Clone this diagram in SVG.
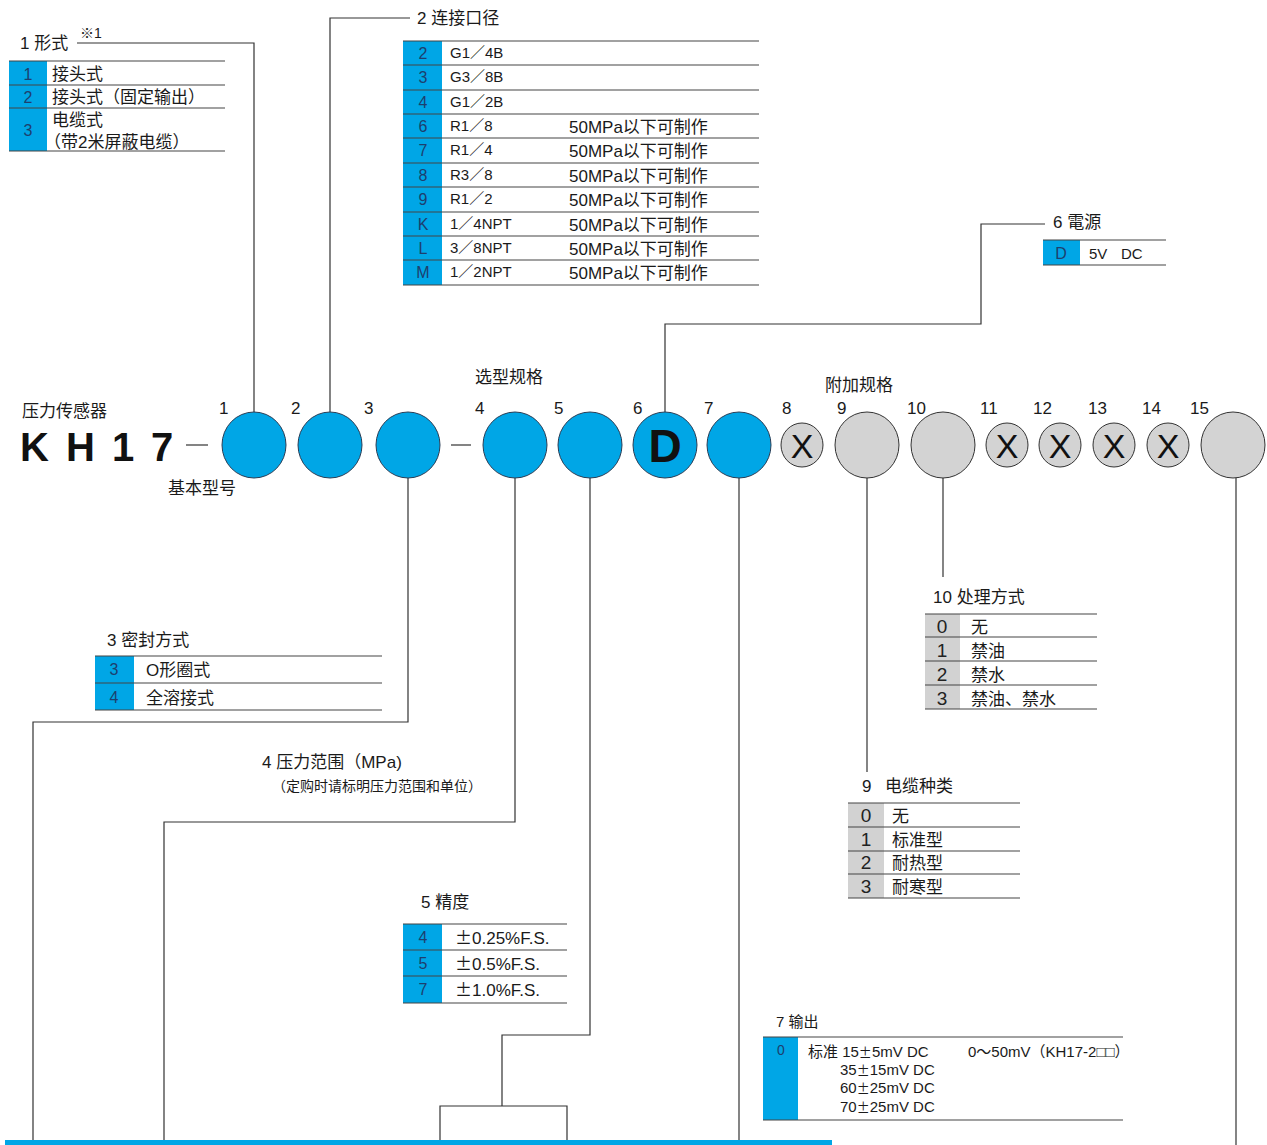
<svg xmlns="http://www.w3.org/2000/svg" width="1267" height="1145" viewBox="0 0 1267 1145">
<style>
text{font-family:"Liberation Sans","Noto Sans CJK SC",sans-serif;fill:#1a1a1a}
.t{font-size:17px}
.s{font-size:15px}
.xs{font-size:14px}
.pm{font-family:"Noto Sans CJK SC",sans-serif}
.pms{font-family:"Noto Sans CJK SC",sans-serif;font-size:13px}
.code{font-size:16px;fill:#1d3f6e;text-anchor:middle}
.gcode{font-size:19px;fill:#222;text-anchor:middle}
.num{font-size:17px}
.blue{fill:#00a6e6}
.gray{fill:#d2d2d2}
.ln{stroke:#333;stroke-width:1.2;fill:none}
.rl{stroke:#444;stroke-width:1.2}
.cb{fill:#00a6e6;stroke:#2a3d55;stroke-width:1}
.cg{fill:#d3d3d3;stroke:#333;stroke-width:1}
.x{font-size:34px;text-anchor:middle;fill:#111}
</style>
<rect width="1267" height="1145" fill="#fff"/>

<g id="connectors">
<polyline class="ln" points="254,412 254,43 228,43 77,43"/>
<polyline class="ln" points="330,412 330,18 410,18"/>
<polyline class="ln" points="665,412 665,324 981,324 981,224 1045,224"/>
<polyline class="ln" points="408,478 408,722 33,722 33,1145"/>
<polyline class="ln" points="515,478 515,822 164,822 164,1145"/>
<polyline class="ln" points="590,478 590,1035 502,1035 502,1106"/>
<polyline class="ln" points="440,1145 440,1106 567,1106 567,1145"/>
<line class="ln" x1="739" y1="478" x2="739" y2="1145"/>
<line class="ln" x1="867" y1="478" x2="867" y2="772"/>
<line class="ln" x1="943" y1="478" x2="943" y2="577"/>
<line class="ln" x1="1236" y1="478" x2="1236" y2="1145"/>
<line class="ln" x1="186" y1="445" x2="208" y2="445"/>
<line class="ln" x1="451" y1="445" x2="471" y2="445"/>
</g>

<rect x="5" y="1140" width="827" height="5" class="blue"/>

<g id="header">
<text x="22" y="417" class="t">压力传感器</text>
<text y="461" style="font-size:40px;font-weight:bold;fill:#111"><tspan x="20">K</tspan><tspan x="66">H</tspan><tspan x="112">1</tspan><tspan x="151">7</tspan></text>
<text x="168" y="494" class="t">基本型号</text>
<text x="475" y="383" class="t">选型规格</text>
<text x="825" y="391" class="t">附加规格</text>
</g>

<g id="positions">
<text x="219" y="414" class="num">1</text>
<text x="291" y="414" class="num">2</text>
<text x="364" y="414" class="num">3</text>
<text x="475" y="414" class="num">4</text>
<text x="554" y="414" class="num">5</text>
<text x="633" y="414" class="num">6</text>
<text x="704" y="414" class="num">7</text>
<text x="782" y="414" class="num">8</text>
<text x="837" y="414" class="num">9</text>
<text x="907" y="414" class="num">10</text>
<text x="980" y="414" class="num">11</text>
<text x="1033" y="414" class="num">12</text>
<text x="1088" y="414" class="num">13</text>
<text x="1142" y="414" class="num">14</text>
<text x="1190" y="414" class="num">15</text>
</g>

<g id="c1"><ellipse class="cb" cx="254" cy="445" rx="32" ry="33"/></g>
<g id="c2"><ellipse class="cb" cx="330" cy="445" rx="32" ry="33"/></g>
<g id="c3"><ellipse class="cb" cx="408" cy="445" rx="32" ry="33"/></g>
<g id="c4"><ellipse class="cb" cx="515" cy="445" rx="32" ry="33"/></g>
<g id="c5"><ellipse class="cb" cx="590" cy="445" rx="32" ry="33"/></g>
<g id="c6"><ellipse class="cb" cx="665" cy="445" rx="32" ry="33"/><text x="665" y="462" style="font-size:46px;font-weight:bold;text-anchor:middle;fill:#111">D</text></g>
<g id="c7"><ellipse class="cb" cx="739" cy="445" rx="32" ry="33"/></g>
<g id="c8"><ellipse class="cg" cx="802" cy="445" rx="21" ry="22"/><text x="802" y="458" class="x">X</text></g>
<g id="c9"><ellipse class="cg" cx="867" cy="445" rx="32" ry="33"/></g>
<g id="c10"><ellipse class="cg" cx="943" cy="445" rx="32" ry="33"/></g>
<g id="c11"><ellipse class="cg" cx="1007" cy="445" rx="21" ry="22"/><text x="1007" y="458" class="x">X</text></g>
<g id="c12"><ellipse class="cg" cx="1060" cy="445" rx="21" ry="22"/><text x="1060" y="458" class="x">X</text></g>
<g id="c13"><ellipse class="cg" cx="1114" cy="445" rx="21" ry="22"/><text x="1114" y="458" class="x">X</text></g>
<g id="c14"><ellipse class="cg" cx="1168" cy="445" rx="21" ry="22"/><text x="1168" y="458" class="x">X</text></g>
<g id="c15"><ellipse class="cg" cx="1233" cy="445" rx="32" ry="33"/></g>

<g id="t1">
<text x="20" y="49" class="t">1 形式</text>
<text x="80" y="38" class="xs">※1</text>
<rect x="9" y="61" width="38" height="90" class="blue"/>
<line class="rl" x1="9" y1="61" x2="225" y2="61"/>
<line class="rl" x1="9" y1="85" x2="225" y2="85"/>
<line class="rl" x1="9" y1="108" x2="225" y2="108"/>
<line class="rl" x1="9" y1="151" x2="225" y2="151"/>
<text x="28" y="80" class="code">1</text>
<text x="28" y="103" class="code">2</text>
<text x="28" y="136" class="code">3</text>
<text x="52" y="80" class="t">接头式</text>
<text x="52" y="103" class="t">接头式（固定输出）</text>
<text x="52" y="126" class="t">电缆式</text>
<text x="44" y="148" class="t">（带2米屏蔽电缆）</text>
</g>

<g id="t2">
<text x="417" y="24" class="t">2 连接口径</text>
<rect x="403" y="41" width="39" height="244" class="blue"/>
<line class="rl" x1="403" y1="41" x2="759" y2="41"/>
<line class="rl" x1="403" y1="65" x2="759" y2="65"/>
<line class="rl" x1="403" y1="90" x2="759" y2="90"/>
<line class="rl" x1="403" y1="114" x2="759" y2="114"/>
<line class="rl" x1="403" y1="138" x2="759" y2="138"/>
<line class="rl" x1="403" y1="163" x2="759" y2="163"/>
<line class="rl" x1="403" y1="187" x2="759" y2="187"/>
<line class="rl" x1="403" y1="212" x2="759" y2="212"/>
<line class="rl" x1="403" y1="236" x2="759" y2="236"/>
<line class="rl" x1="403" y1="260" x2="759" y2="260"/>
<line class="rl" x1="403" y1="285" x2="759" y2="285"/>
<text x="423" y="59" class="code">2</text>
<text x="423" y="83" class="code">3</text>
<text x="423" y="108" class="code">4</text>
<text x="423" y="132" class="code">6</text>
<text x="423" y="156" class="code">7</text>
<text x="423" y="181" class="code">8</text>
<text x="423" y="205" class="code">9</text>
<text x="423" y="230" class="code">K</text>
<text x="423" y="254" class="code">L</text>
<text x="423" y="278" class="code">M</text>
<text x="450" y="58" class="s">G1／4B</text>
<text x="450" y="82" class="s">G3／8B</text>
<text x="450" y="107" class="s">G1／2B</text>
<text x="450" y="131" class="s">R1／8</text>
<text x="450" y="155" class="s">R1／4</text>
<text x="450" y="180" class="s">R3／8</text>
<text x="450" y="204" class="s">R1／2</text>
<text x="450" y="229" class="s">1／4NPT</text>
<text x="450" y="253" class="s">3／8NPT</text>
<text x="450" y="277" class="s">1／2NPT</text>
<text x="569" y="133" class="t">50MPa以下可制作</text>
<text x="569" y="157" class="t">50MPa以下可制作</text>
<text x="569" y="182" class="t">50MPa以下可制作</text>
<text x="569" y="206" class="t">50MPa以下可制作</text>
<text x="569" y="231" class="t">50MPa以下可制作</text>
<text x="569" y="255" class="t">50MPa以下可制作</text>
<text x="569" y="279" class="t">50MPa以下可制作</text>
</g>

<g id="t6">
<text x="1053" y="228" class="t">6 電源</text>
<rect x="1043" y="240" width="37" height="25" class="blue"/>
<line class="rl" x1="1043" y1="240" x2="1166" y2="240"/>
<line class="rl" x1="1043" y1="265" x2="1166" y2="265"/>
<text x="1061" y="259" class="code">D</text>
<text y="259" class="s"><tspan x="1089">5V</tspan><tspan x="1121">DC</tspan></text>
</g>

<g id="t3">
<text x="107" y="646" class="t">3 密封方式</text>
<rect x="95" y="656" width="39" height="54" class="blue"/>
<line class="rl" x1="95" y1="656" x2="382" y2="656"/>
<line class="rl" x1="95" y1="683" x2="382" y2="683"/>
<line class="rl" x1="95" y1="710" x2="382" y2="710"/>
<text x="114" y="675" class="code">3</text>
<text x="114" y="703" class="code">4</text>
<text x="146" y="676" class="t">O形圈式</text>
<text x="146" y="704" class="t">全溶接式</text>
</g>

<g id="t4">
<text x="262" y="768" class="t">4 压力范围（MPa)</text>
<text x="272" y="791" class="xs">（定购时请标明压力范围和单位）</text>
</g>

<g id="t5">
<text x="421" y="908" class="t">5 精度</text>
<rect x="403" y="924" width="39" height="79" class="blue"/>
<line class="rl" x1="403" y1="924" x2="567" y2="924"/>
<line class="rl" x1="403" y1="950" x2="567" y2="950"/>
<line class="rl" x1="403" y1="976" x2="567" y2="976"/>
<line class="rl" x1="403" y1="1003" x2="567" y2="1003"/>
<text x="423" y="943" class="code">4</text>
<text x="423" y="969" class="code">5</text>
<text x="423" y="995" class="code">7</text>
<text x="455" y="944" class="t"><tspan class="pm">±</tspan>0.25%F.S.</text>
<text x="455" y="970" class="t"><tspan class="pm">±</tspan>0.5%F.S.</text>
<text x="455" y="996" class="t"><tspan class="pm">±</tspan>1.0%F.S.</text>
</g>

<g id="t7">
<text x="776" y="1027" class="s">7 输出</text>
<rect x="763" y="1037" width="35" height="83" class="blue"/>
<line class="rl" x1="763" y1="1037" x2="1123" y2="1037"/>
<line class="rl" x1="763" y1="1120" x2="1123" y2="1120"/>
<text x="781" y="1055" class="code" style="font-size:14px">0</text>
<text x="808" y="1057" class="s">标准 15<tspan class="pms">±</tspan>5mV DC</text>
<text x="968" y="1057" class="s">0～50mV（KH17-2□□）</text>
<text x="840" y="1075" class="s">35<tspan class="pms">±</tspan>15mV DC</text>
<text x="840" y="1093" class="s">60<tspan class="pms">±</tspan>25mV DC</text>
<text x="840" y="1112" class="s">70<tspan class="pms">±</tspan>25mV DC</text>
</g>

<g id="t10">
<text x="933" y="603" class="t">10  处理方式</text>
<rect x="925" y="614" width="35" height="95" class="gray"/>
<line class="rl" x1="925" y1="614" x2="1097" y2="614"/>
<line class="rl" x1="925" y1="637" x2="1097" y2="637"/>
<line class="rl" x1="925" y1="661" x2="1097" y2="661"/>
<line class="rl" x1="925" y1="685" x2="1097" y2="685"/>
<line class="rl" x1="925" y1="709" x2="1097" y2="709"/>
<text x="942" y="633" class="gcode">0</text>
<text x="942" y="657" class="gcode">1</text>
<text x="942" y="681" class="gcode">2</text>
<text x="942" y="705" class="gcode">3</text>
<text x="971" y="633" class="t">无</text>
<text x="971" y="657" class="t">禁油</text>
<text x="971" y="681" class="t">禁水</text>
<text x="971" y="705" class="t">禁油、禁水</text>
</g>

<g id="t9">
<text y="792" class="t"><tspan x="862">9</tspan><tspan x="885">电缆种类</tspan></text>
<rect x="848" y="803" width="36" height="95" class="gray"/>
<line class="rl" x1="848" y1="803" x2="1020" y2="803"/>
<line class="rl" x1="848" y1="827" x2="1020" y2="827"/>
<line class="rl" x1="848" y1="851" x2="1020" y2="851"/>
<line class="rl" x1="848" y1="874" x2="1020" y2="874"/>
<line class="rl" x1="848" y1="898" x2="1020" y2="898"/>
<text x="866" y="822" class="gcode">0</text>
<text x="866" y="846" class="gcode">1</text>
<text x="866" y="869" class="gcode">2</text>
<text x="866" y="893" class="gcode">3</text>
<text x="892" y="822" class="t">无</text>
<text x="892" y="846" class="t">标准型</text>
<text x="892" y="869" class="t">耐热型</text>
<text x="892" y="893" class="t">耐寒型</text>
</g>
</svg>
